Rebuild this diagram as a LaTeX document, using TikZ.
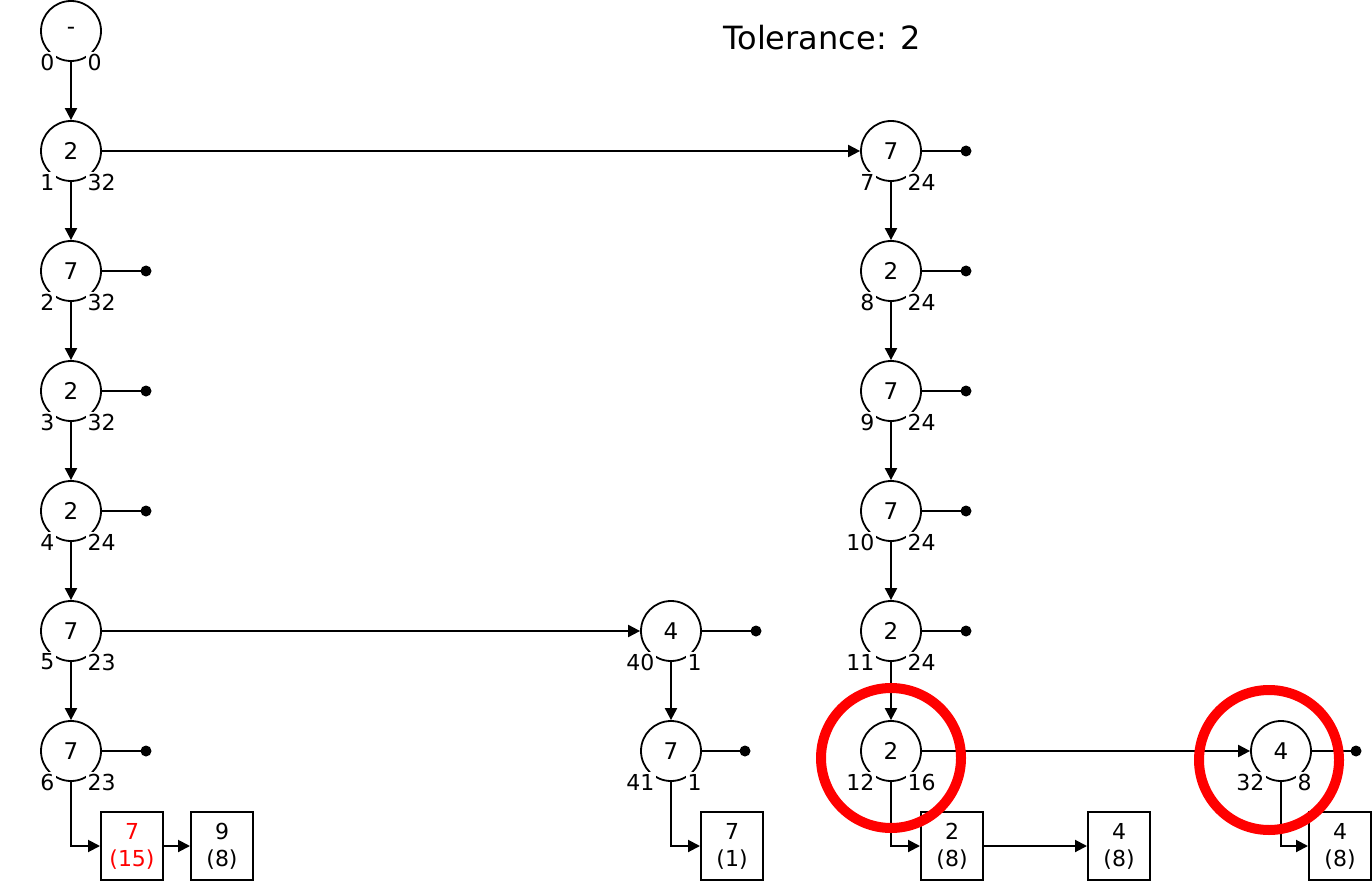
\documentclass[tikz,border=0pt]{standalone}
\usepackage{fontspec}
\setmainfont{DejaVu Sans}
\usetikzlibrary{arrows.meta}
\begin{document}
\begin{tikzpicture}[x=1pt,y=-1pt,
  state/.style={circle,draw,line width=1.8pt,minimum size=60pt,inner sep=0pt,
    font=\fontsize{23}{27}\selectfont},
  lbl/.style={fill=white,inner sep=1.5pt,font=\fontsize{22}{26}\selectfont},
  result/.style={draw,line width=2pt,minimum width=62pt,minimum height=68pt,
    inner sep=0pt,align=center,font=\fontsize{22}{27}\selectfont},
  edge/.style={line width=2pt,-{Triangle[length=12pt,width=12pt]}},
  stub/.style={line width=2pt},
  redring/.style={draw=red,line width=10pt}
]
\useasboundingbox (0,0) rectangle (1372,882);

% state node: name, x, y, value
\newcommand\statenode[4]{%
  \node[state] (#1) at (#2,#3) {#4};
}
% count labels, drawn after the connectors
\newcommand\counts[3]{%
  \path (#1.center) ++(-15,31) node[lbl,anchor=east] (#1-left) {#2};
  \path (#1.center) ++(15,31) node[lbl,anchor=west] (#1-right) {#3};
}
% dead-end stub: node name, dot x offset
\newcommand\stubline[2]{%
  \path (#1.center) ++(#2,0) coordinate (#1d);
  \draw[stub] (#1.east) -- (#1d);
  \fill (#1d) circle (5.5);
}

\node[font=\fontsize{32}{38}\selectfont] (title) at (822,38) {Tolerance: 2};

% left column
\statenode{a0}{71}{31}{-}
\statenode{a1}{71}{151}{2}
\statenode{a2}{71}{271}{7}
\statenode{a3}{71}{391}{2}
\statenode{a4}{71}{511}{2}
\statenode{a5}{71}{631}{7}
\statenode{a6}{71}{751}{7}

% middle column
\statenode{b0}{671}{631}{4}
\statenode{b1}{671}{751}{7}

% right column
\statenode{c0}{891}{151}{7}
\statenode{c1}{891}{271}{2}
\statenode{c2}{891}{391}{7}
\statenode{c3}{891}{511}{7}
\statenode{c4}{891}{631}{2}
\statenode{c5}{891}{751}{2}

% far right
\statenode{d0}{1281}{751}{4}

% result boxes
\node[result,text=red] (r1) at (132,846) {7\\(15)};
\node[result] (r2) at (222,846) {9\\(8)};
\node[result] (r3) at (732,846) {7\\(1)};
\node[result] (r4) at (952,846) {2\\(8)};
\node[result] (r5) at (1119,846) {4\\(8)};
\node[result] (r6) at (1340,846) {4\\(8)};

% vertical chains
\draw[edge] (a0) -- (a1);
\draw[edge] (a1) -- (a2);
\draw[edge] (a2) -- (a3);
\draw[edge] (a3) -- (a4);
\draw[edge] (a4) -- (a5);
\draw[edge] (a5) -- (a6);
\draw[edge] (b0) -- (b1);
\draw[edge] (c0) -- (c1);
\draw[edge] (c1) -- (c2);
\draw[edge] (c2) -- (c3);
\draw[edge] (c3) -- (c4);
\draw[edge] (c4) -- (c5);

% branches
\draw[edge] (a1) -- (c0);
\draw[edge] (a5) -- (b0);
\draw[edge] (c5) -- (d0);

% to results
\draw[edge] (a6.south) |- (r1.west);
\draw[edge] (r1) -- (r2);
\draw[edge] (b1.south) |- (r3.west);
\draw[edge] (c5.south) |- (r4.west);
\draw[edge] (r4) -- (r5);
\draw[edge] (d0.south) |- (r6.west);

% stubs
\stubline{a2}{75}
\stubline{a3}{75}
\stubline{a4}{75}
\stubline{a6}{75}
\stubline{b0}{85}
\stubline{b1}{74}
\stubline{c0}{75}
\stubline{c1}{75}
\stubline{c2}{75}
\stubline{c3}{75}
\stubline{c4}{75}
\stubline{d0}{75}

% counts below each state
\counts{a0}{0}{0}
\counts{a1}{1}{32}
\counts{a2}{2}{32}
\counts{a3}{3}{32}
\counts{a4}{4}{24}
\counts{a5}{5}{23}
\counts{a6}{6}{23}
\counts{b0}{40}{1}
\counts{b1}{41}{1}
\counts{c0}{7}{24}
\counts{c1}{8}{24}
\counts{c2}{9}{24}
\counts{c3}{10}{24}
\counts{c4}{11}{24}
\counts{c5}{12}{16}
\counts{d0}{32}{8}

% highlight rings
\draw[redring] (891,758) circle (70);
\draw[redring] (1269,760) circle (70);
\end{tikzpicture}
\end{document}
